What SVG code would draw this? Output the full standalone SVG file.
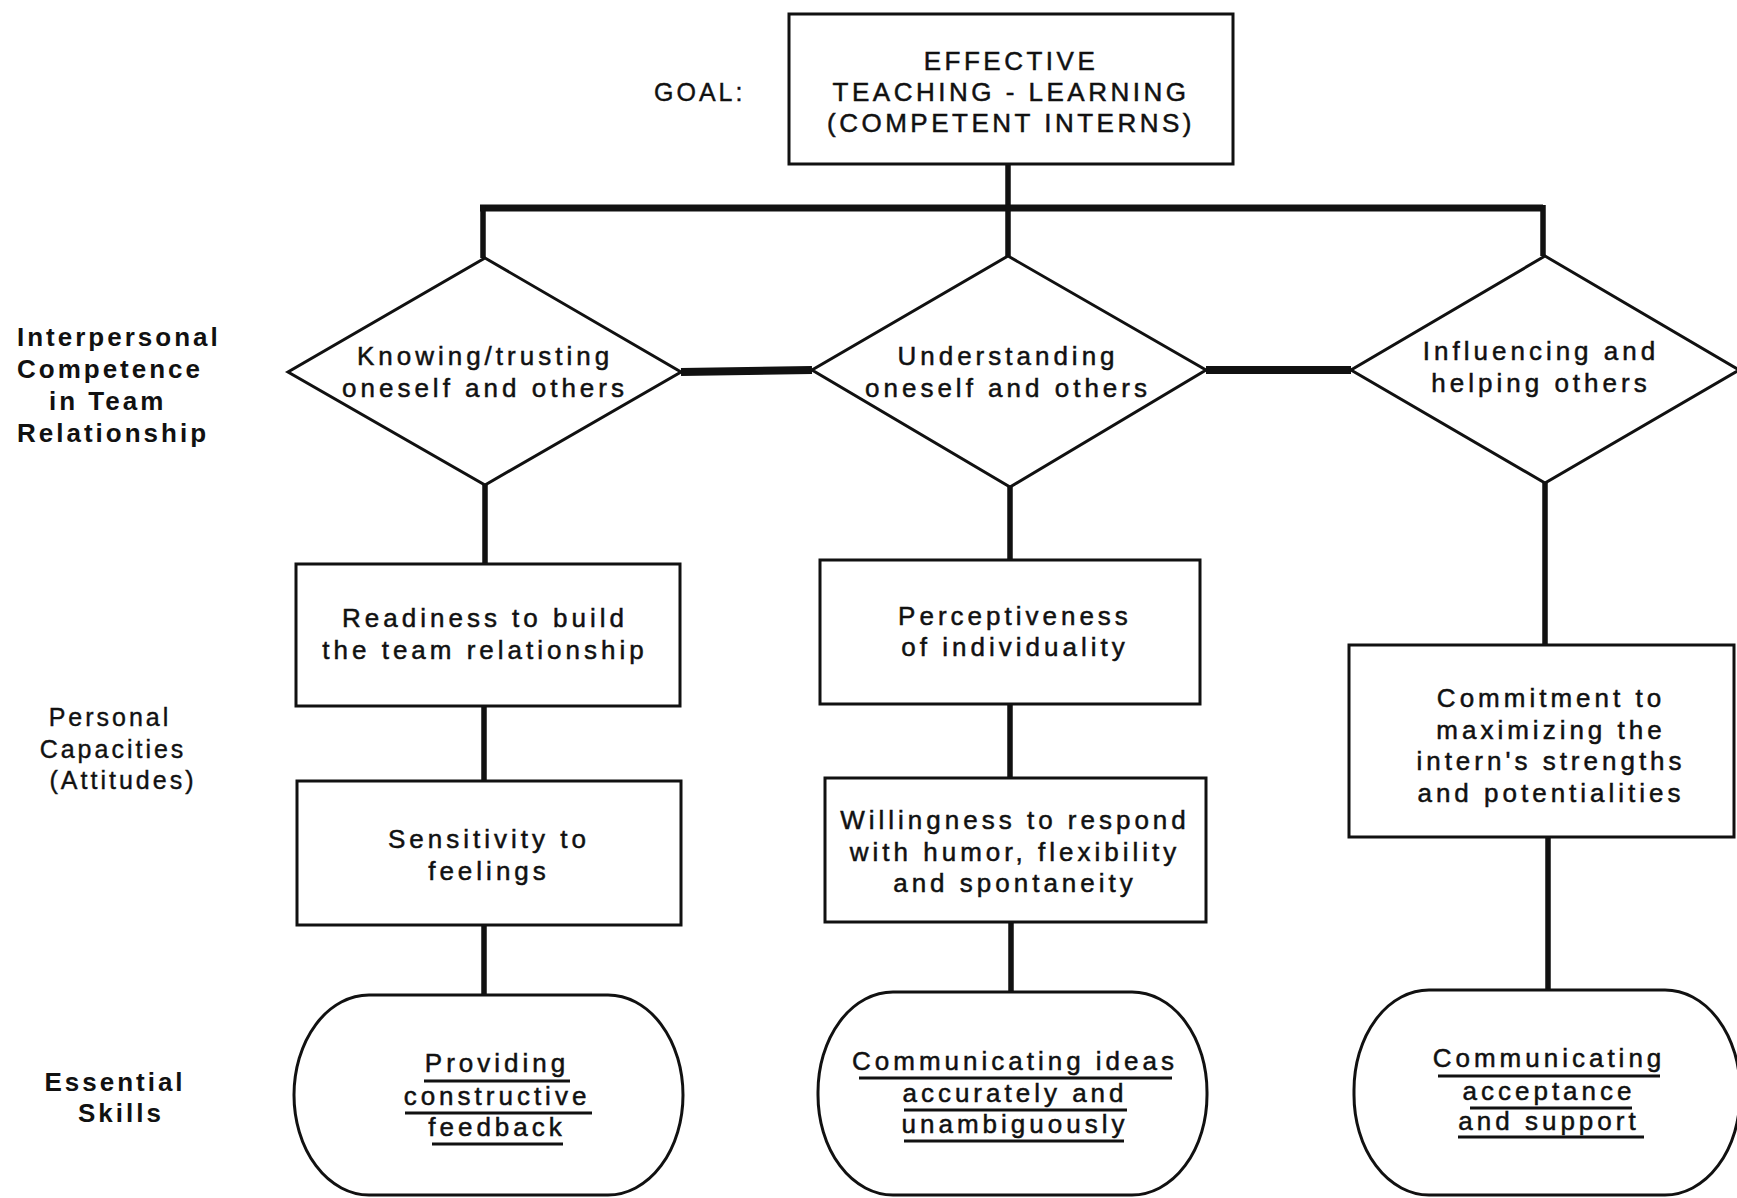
<svg xmlns="http://www.w3.org/2000/svg" width="1737" height="1198" viewBox="0 0 1737 1198">
  <style>
    .shape { fill: #ffffff; stroke: #111111; stroke-width: 3; }
    .diamond { fill: #ffffff; stroke: #111111; stroke-width: 3; }
    .wire { fill: none; stroke: #111111; stroke-width: 5.5; }
    .bar { fill: none; stroke: #111111; stroke-width: 8; }
    .lbl { font-family: "Liberation Sans", Arial, sans-serif; font-size: 26px; letter-spacing: 4px; fill: #111111; stroke: #111111; stroke-width: 0.5; text-anchor: middle; }
    .cap { font-family: "Liberation Sans", Arial, sans-serif; font-size: 26px; letter-spacing: 3.5px; fill: #111111; stroke: #111111; stroke-width: 0.5; text-anchor: middle; }
    .side { font-family: "Liberation Sans", Arial, sans-serif; font-size: 25px; letter-spacing: 3px; fill: #111111; stroke: #111111; stroke-width: 0.4; }
    .sideb { font-family: "Liberation Sans", Arial, sans-serif; font-size: 26px; font-weight: bold; letter-spacing: 3px; fill: #111111; }
    .ul { stroke: #111111; stroke-width: 3; }
  </style>
  <rect width="1737" height="1198" fill="#ffffff"/>

  <!-- row labels -->
  <g id="row-labels">
    <text class="side" x="654" y="101" letter-spacing="5">GOAL:</text>
    <text class="sideb" x="17" y="346">Interpersonal</text>
    <text class="sideb" x="17" y="378">Competence</text>
    <text class="sideb" x="49" y="410">in Team</text>
    <text class="sideb" x="17" y="442">Relationship</text>
    <text class="side" x="110" y="726" text-anchor="middle">Personal</text>
    <text class="side" x="113" y="758" text-anchor="middle">Capacities</text>
    <text class="side" x="123" y="789" text-anchor="middle">(Attitudes)</text>
    <text class="sideb" x="115" y="1091" text-anchor="middle">Essential</text>
    <text class="sideb" x="121" y="1122" text-anchor="middle">Skills</text>
  </g>

  <!-- connectors -->
  <g id="connectors">
    <path class="wire" d="M1008 164 V208"/>
    <path class="bar" style="stroke-width:7" d="M480 208 H1543"/>
    <path class="wire" d="M483 205 V258 M1008 205 V256 M1543 205 V256"/>
    <path class="bar" d="M681 372 L812 370 M1206 370 L1351 370"/>
    <path class="wire" d="M485 485 V564 M1010 487 V560 M1545 483 V645"/>
    <path class="wire" d="M484 706 V781 M1010 704 V778"/>
    <path class="wire" d="M484 925 V995 M1011 922 V992 M1548 837 V990"/>
  </g>

  <!-- goal -->
  <g id="goal">
    <rect class="shape" x="789" y="14" width="444" height="150"/>
    <text class="cap" x="1011" y="70">EFFECTIVE</text>
    <text class="cap" x="1011" y="101">TEACHING - LEARNING</text>
    <text class="cap" x="1011" y="132">(COMPETENT INTERNS)</text>
  </g>

  <!-- interpersonal competence -->
  <g id="knowing-trusting">
    <polygon class="diamond" points="485,258 681,372 485,485 288,372"/>
    <text class="lbl" x="485" y="365">Knowing/trusting</text>
    <text class="lbl" x="485" y="397">oneself and others</text>
  </g>
  <g id="understanding">
    <polygon class="diamond" points="1008,256 1206,370 1010,487 812,370"/>
    <text class="lbl" x="1008" y="365">Understanding</text>
    <text class="lbl" x="1008" y="397">oneself and others</text>
  </g>
  <g id="influencing">
    <polygon class="diamond" points="1545,256 1739,370 1545,483 1351,370"/>
    <text class="lbl" x="1541" y="360">Influencing and</text>
    <text class="lbl" x="1541" y="392">helping others</text>
  </g>

  <!-- personal capacities -->
  <g id="readiness">
    <rect class="shape" x="296" y="564" width="384" height="142"/>
    <text class="lbl" x="485" y="627">Readiness to build</text>
    <text class="lbl" x="485" y="659">the team relationship</text>
  </g>
  <g id="sensitivity">
    <rect class="shape" x="297" y="781" width="384" height="144"/>
    <text class="lbl" x="489" y="848">Sensitivity to</text>
    <text class="lbl" x="489" y="880">feelings</text>
  </g>
  <g id="perceptiveness">
    <rect class="shape" x="820" y="560" width="380" height="144"/>
    <text class="lbl" x="1015" y="625">Perceptiveness</text>
    <text class="lbl" x="1015" y="656">of individuality</text>
  </g>
  <g id="willingness">
    <rect class="shape" x="825" y="778" width="381" height="144"/>
    <text class="lbl" x="1015" y="829">Willingness to respond</text>
    <text class="lbl" x="1015" y="861">with humor, flexibility</text>
    <text class="lbl" x="1015" y="892">and spontaneity</text>
  </g>
  <g id="commitment">
    <rect class="shape" x="1349" y="645" width="385" height="192"/>
    <text class="lbl" x="1551" y="707">Commitment to</text>
    <text class="lbl" x="1551" y="739">maximizing the</text>
    <text class="lbl" x="1551" y="770">intern's strengths</text>
    <text class="lbl" x="1551" y="802">and potentialities</text>
  </g>

  <!-- essential skills -->
  <g id="providing-feedback">
    <rect class="shape" x="294" y="995" width="389" height="200" rx="75" ry="100"/>
    <text class="lbl" x="497" y="1072">Providing</text>
    <text class="lbl" x="497" y="1105">constructive</text>
    <text class="lbl" x="497" y="1136">feedback</text>
    <path class="ul" d="M424 1081 H570 M405 1113 H592 M432 1144 H563"/>
  </g>
  <g id="communicating-ideas">
    <rect class="shape" x="818" y="992" width="389" height="203" rx="75" ry="100"/>
    <text class="lbl" x="1015" y="1070">Communicating ideas</text>
    <text class="lbl" x="1015" y="1102">accurately and</text>
    <text class="lbl" x="1015" y="1133">unambiguously</text>
    <path class="ul" d="M859 1078 H1172 M904 1110 H1127 M904 1141 H1124"/>
  </g>
  <g id="communicating-acceptance">
    <rect class="shape" x="1354" y="990" width="386" height="205" rx="75" ry="100"/>
    <text class="lbl" x="1549" y="1067">Communicating</text>
    <text class="lbl" x="1549" y="1100">acceptance</text>
    <text class="lbl" x="1549" y="1130">and support</text>
    <path class="ul" d="M1438 1076 H1660 M1470 1108 H1632 M1458 1137 H1644"/>
  </g>
</svg>
